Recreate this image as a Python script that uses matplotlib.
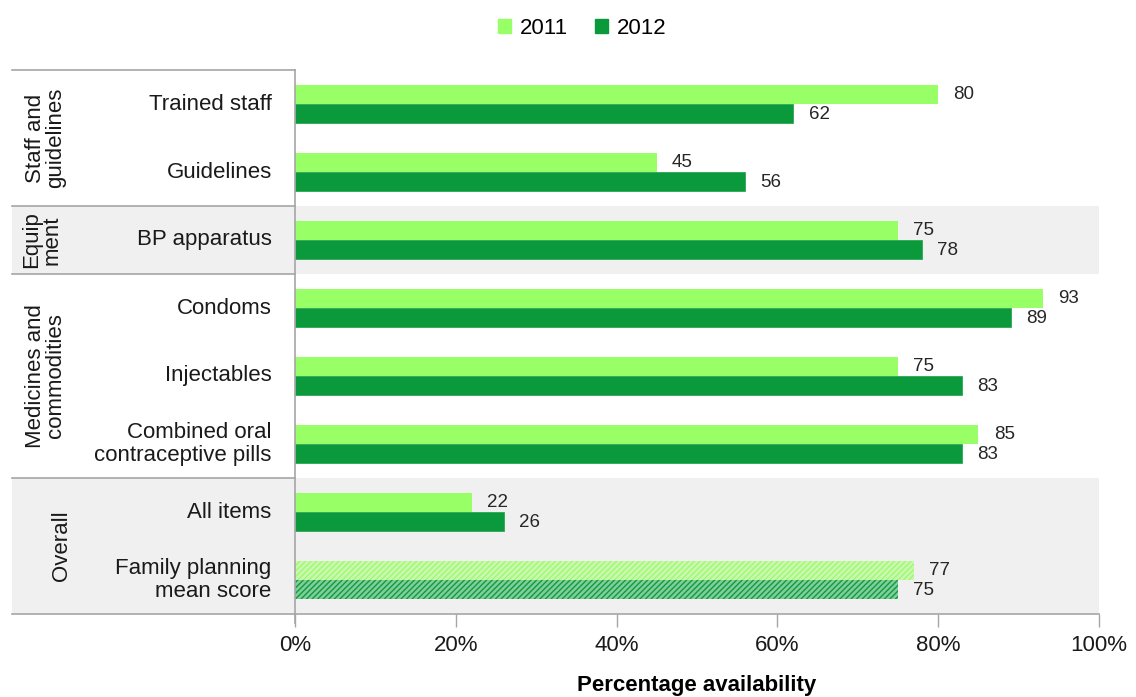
import matplotlib
matplotlib.use("Agg")
import matplotlib.pyplot as plt
from matplotlib import font_manager
from matplotlib.patches import Rectangle

names = sorted({f.name for f in font_manager.fontManager.ttflist})
print(names)

categories = ["Trained staff", "Guidelines", "BP apparatus", "Condoms",
              "Injectables", "Combined oral\ncontraceptive pills",
              "All items", "Family planning\nmean score"]
values_2011 = [80, 45, 75, 93, 75, 85, 22, 77]
values_2012 = [62, 56, 78, 89, 83, 83, 26, 75]
hatched = [False, False, False, False, False, False, False, True]

groups = ["Staff and\nguidelines", "Equip\nment", "Medicines and\ncommodities", "Overall"]
group_spans = [(0, 1), (2, 2), (3, 5), (6, 7)]
group_shaded = [False, True, False, True]

fam = ["Liberation Sans Narrow", "Liberation Sans", "DejaVu Sans"]
plt.rcParams["font.family"] = fam

light = "#99ff66"
dark = "#0a9a3c"
grid_grey = "#a6a6a6"

fig = plt.figure(figsize=(11.36, 6.97), dpi=100)
ax = fig.add_axes([295 / 1136, (697 - 614) / 697, 804 / 1136, 544 / 697])

n = len(categories)
h = 0.28
ys = list(range(n))
for i in ys:
    if hatched[i]:
        ax.barh(i - h / 2, values_2011[i], height=h, color="#cdf5b5",
                edgecolor=light, hatch="//////", linewidth=0)
        ax.barh(i + h / 2, values_2012[i], height=h, color="#80cf99",
                edgecolor="#119944", hatch="//////", linewidth=0)
    else:
        ax.barh(i - h / 2, values_2011[i], height=h, color=light, linewidth=0)
        ax.barh(i + h / 2, values_2012[i], height=h, color=dark,
                edgecolor="#2aa855", linewidth=0.6)
    ax.text(values_2011[i] + 1.9, i - h / 2, str(values_2011[i]),
            va="center", ha="left", fontsize=13.5, color="#262626")
    ax.text(values_2012[i] + 1.9, i + h / 2 + 0.02, str(values_2012[i]),
            va="center", ha="left", fontsize=13.5, color="#262626")

ax.set_xlim(0, 100)
ax.set_ylim(n - 0.5, -0.5)
ax.set_xticks([0, 20, 40, 60, 80, 100])
ax.set_xticklabels(["0%", "20%", "40%", "60%", "80%", "100%"])
ax.tick_params(axis="x", length=9, width=1, color=grid_grey, labelsize=16,
               labelcolor="#1a1a1a", pad=6)
ax.tick_params(axis="y", length=0)
ax.set_yticks([])
ax.set_xlabel("Percentage availability", fontsize=16, fontweight="bold",
              labelpad=14)

for s in ["top", "right"]:
    ax.spines[s].set_visible(False)
ax.spines["left"].set_color(grid_grey)
ax.spines["bottom"].set_color(grid_grey)
ax.spines["left"].set_linewidth(1.2)
ax.spines["bottom"].set_linewidth(1.2)
ax.spines["left"].set_bounds(n - 0.5 + 0.13, -0.5)

# shaded bands and separators reaching into the label column
trans = ax.get_yaxis_transform()
left_edge = (12 - 295) / 804
for (a, b), shade in zip(group_spans, group_shaded):
    if shade:
        ax.add_patch(Rectangle((left_edge, a - 0.5), 1 - left_edge, b - a + 1,
                               transform=trans, facecolor="#f0f0f0",
                               edgecolor="none", clip_on=False, zorder=0))
edges = sorted({a - 0.5 for a, b in group_spans} | {n - 0.5})
for e in edges:
    ax.plot([left_edge, 0], [e, e], transform=trans, color=grid_grey,
            lw=1.2, clip_on=False)

for i, lab in enumerate(categories):
    ax.text(-0.029, i, lab, transform=trans, ha="right", va="center",
            fontsize=16, color="#1a1a1a", linespacing=1.15)

group_x = [-0.31, -0.315, -0.31, -0.29]
for (a, b), g, gx in zip(group_spans, groups, group_x):
    ax.text(gx, (a + b) / 2, g, transform=trans, rotation=90, ha="center",
            va="center", fontsize=16, color="#1a1a1a", linespacing=0.95,
            multialignment="center")

# legend
from matplotlib.patches import Patch
handles = [Patch(color=light, label="2011"), Patch(color=dark, label="2012")]
fig.legend(handles=handles, loc="center", bbox_to_anchor=(582 / 1136, 1 - 28 / 697),
           ncol=2, frameon=False, fontsize=16, handlelength=0.6, handleheight=0.6,
           handletextpad=0.4, columnspacing=1.2)

fig.savefig("out.png", dpi=100)
